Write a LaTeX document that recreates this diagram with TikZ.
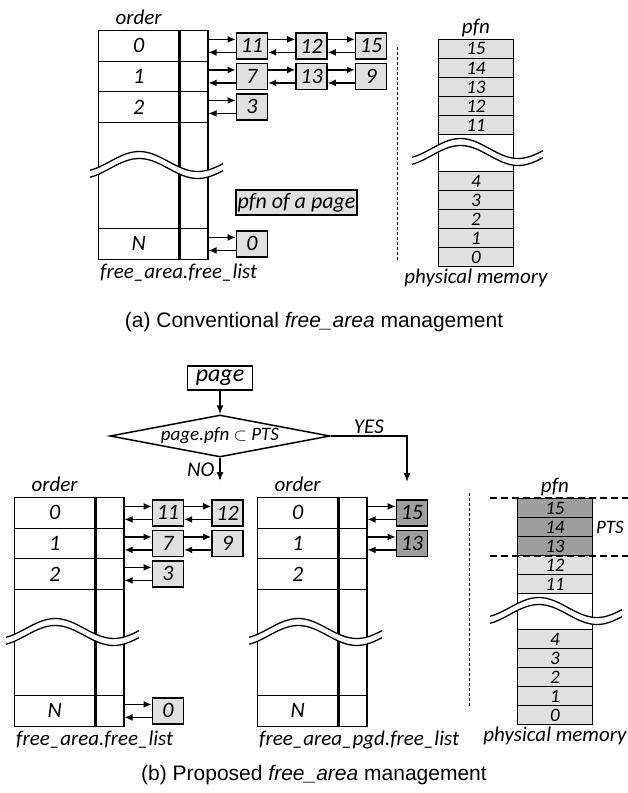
\documentclass[tikz,border=0pt]{standalone}
\usepackage{fontspec}
\setmainfont{Carlito}
\setsansfont{Liberation Sans}
\usetikzlibrary{positioning,shapes.geometric,arrows.meta}
\definecolor{pagefill}{gray}{0.88}
\definecolor{ptsfill}{gray}{0.62}
\begin{document}
\begin{tikzpicture}[x=1pt, y=-1pt,
    ordercell/.style={draw, line width=1.3pt, minimum width=80pt, minimum height=30.5pt, inner sep=0pt, anchor=north west, font=\fontsize{22}{22}\selectfont\itshape},
    slot/.style={draw, line width=1.3pt, minimum width=28pt, minimum height=30.5pt, inner sep=0pt, anchor=north west},
    pfnbox/.style={draw, line width=1.6pt, fill=pagefill, minimum width=31pt, minimum height=26pt, inner sep=0pt, font=\fontsize{22}{22}\selectfont\itshape},
    ptsbox/.style={pfnbox, fill=ptsfill},
    mem/.style={draw, line width=0.9pt, fill=pagefill, minimum width=75pt, minimum height=19pt, inner sep=0pt, anchor=north west, font=\fontsize{19}{19}\selectfont\itshape},
    tag/.style={font=\fontsize{21}{21}\selectfont\itshape, inner sep=2pt},
    capt/.style={font=\fontsize{21}{21}\selectfont\sffamily},
    link/.style={line width=1.3pt, -{Latex[length=8pt,width=7pt]}},
    flow/.style={line width=1.4pt, -{Latex[length=9pt,width=7pt]}},
    wavecut/.pic={
      \fill[white] plot[smooth, domain=0:#1, samples=30] (\x,{-10*sin(360*(\x/#1-0.15)/0.88)-3.5})
        -- plot[smooth, domain=#1:0, samples=30] (\x,{-10*sin(360*(\x/#1-0.15)/0.88)+3.5}) -- cycle;
      \draw[line width=1.3pt] plot[smooth, domain=0:#1, samples=30] (\x,{-10*sin(360*(\x/#1-0.15)/0.88)-3.5});
      \draw[line width=1.3pt] plot[smooth, domain=0:#1, samples=30] (\x,{-10*sin(360*(\x/#1-0.15)/0.88)+3.5});
    }
]
\useasboundingbox (0,0) rectangle (628,793);

% free_area tables
\foreach \t/\tx/\ty in {A/98/30, B/14/497, C/257/497} {
  \foreach \r in {0,1,2} {
    \node[ordercell] (\t k\r) at (\tx, {\ty+30.5*\r}) {\r};
    \node[slot] (\t s\r) at (\t k\r.north east) {};
  }
  \node[ordercell, minimum height=106.5pt] (\t kx) at (\tx, \ty+91.5) {};
  \node[slot, minimum height=106.5pt] (\t sx) at (\t kx.north east) {};
  \node[ordercell] (\t kN) at (\tx, \ty+198) {N};
  \node[slot] (\t sN) at (\t kN.north east) {};
  \draw[line width=3pt] (\t s0.north west) -- (\t sN.south west);
  \node[tag, above=3pt of \t k0] {order};
  \pic at (\tx-8, \ty+135) {wavecut=133};
}
\node[tag, anchor=north west] (namea) at ([yshift=-2pt]AkN.south west) {free\_area.free\_list};
\node[tag, anchor=north west] (nameb) at ([yshift=-2pt]BkN.south west) {free\_area.free\_list};
\node[tag, anchor=north west] (namec) at ([yshift=-2pt]CkN.south west) {free\_area\_pgd.free\_list};

% pfn lists (a)
\node[pfnbox, right=27pt of As0] (a11) {11};
\node[pfnbox, right=27pt of a11] (a12) {12};
\node[pfnbox, right=27pt of a12] (a15) {15};
\node[pfnbox, right=27pt of As1] (a7) {7};
\node[pfnbox, right=27pt of a7] (a13) {13};
\node[pfnbox, right=27pt of a13] (a9) {9};
\node[pfnbox, right=27pt of As2] (a3) {3};
\node[pfnbox, right=27pt of AsN] (a0) {0};
\node[pfnbox, minimum width=121pt, minimum height=25pt] (legend) at (296.5,202.5) {pfn of a page};

% pfn lists (b)
\node[pfnbox, right=27pt of Bs0] (b11) {11};
\node[pfnbox, right=27pt of b11] (b12) {12};
\node[pfnbox, right=27pt of Bs1] (b7) {7};
\node[pfnbox, right=27pt of b7] (b9) {9};
\node[pfnbox, right=27pt of Bs2] (b3) {3};
\node[pfnbox, right=27pt of BsN] (b0) {0};
\node[ptsbox, right=28pt of Cs0] (c15) {15};
\node[ptsbox, right=28pt of Cs1] (c13) {13};

\foreach \u/\v in {As0/a11, a11/a12, a12/a15, As1/a7, a7/a13, a13/a9, As2/a3, AsN/a0,
                   Bs0/b11, b11/b12, Bs1/b7, b7/b9, Bs2/b3, BsN/b0, Cs0/c15, Cs1/c13} {
  \draw[link] ([yshift=6.5pt]\u.east) -- ([yshift=6.5pt]\v.west);
  \draw[link] ([yshift=-6.5pt]\v.west) -- ([yshift=-6.5pt]\u.east);
}

% physical memory (a)
\draw[line width=1pt, dash pattern=on 3pt off 2pt] (397,47) -- (397,260);
\foreach \n [count=\i from 0] in {15,14,13,12,11}
  \node[mem] (ma\n) at (438, 39+19*\i) {\n};
\node[mem, fill=white, minimum height=37pt] (magap) at (438,134) {};
\foreach \n [count=\i from 0] in {4,3,2,1,0}
  \node[mem] (ma\n) at (438, 171+19*\i) {\n};
\pic at (412,152) {wavecut=131};
\node[tag, above=0pt of ma15] {pfn};
\node[tag, below=0pt of ma0] {physical memory};

% physical memory (b)
\draw[line width=1pt, dash pattern=on 3pt off 2pt] (469,493) -- (469,707);
\foreach \n/\f [count=\i from 0] in {15/ptsfill, 14/ptsfill, 13/ptsfill, 12/pagefill, 11/pagefill}
  \node[mem, fill=\f] (mb\n) at (517, 498+19*\i) {\n};
\node[mem, fill=white, minimum height=36pt] (mbgap) at (517,593) {};
\foreach \n [count=\i from 0] in {4,3,2,1,0}
  \node[mem] (mb\n) at (517, 629+19*\i) {\n};
\pic at (490,611) {wavecut=132};
\node[tag, above=0pt of mb15] {pfn};
\node[tag, below=0pt of mb0] {physical memory};
\draw[line width=1.5pt, dash pattern=on 7pt off 4pt] ([xshift=-27pt]mb15.north west) -- ++(138,0);
\draw[line width=1.5pt, dash pattern=on 7pt off 4pt] ([xshift=-27pt]mb13.south west) -- ++(138,0);
\node[tag, right=1pt of mb14, font=\fontsize{19}{19}\selectfont\itshape] (pts) {PTS};

% decision
\node[draw, line width=1.5pt, minimum width=65pt, minimum height=24pt, inner sep=0pt,
      font=\fontsize{24}{24}\selectfont\itshape] (page) at (220,378) {page};
\node[draw, diamond, aspect=5, line width=1.5pt, minimum width=220pt, minimum height=42pt, inner sep=0pt,
      font=\fontsize{19}{19}\selectfont\itshape] (test) at (220,436) {page.pfn $\subset$ PTS};
\coordinate (noend) at (220,481);
\coordinate (yesend) at (407,482);
\draw[flow] (page) -- (test);
\draw[flow] (test.south) -- (noend) node[midway, left=3pt, tag] {NO};
\draw[flow] (test.east) -| (yesend) node[pos=0.25, above, tag] {YES};

% captions
\node[capt] (capa) at (314,322) {(a) Conventional \textit{free\_area} management};
\node[capt] (capb) at (314,775) {(b) Proposed \textit{free\_area} management};
\end{tikzpicture}
\end{document}
